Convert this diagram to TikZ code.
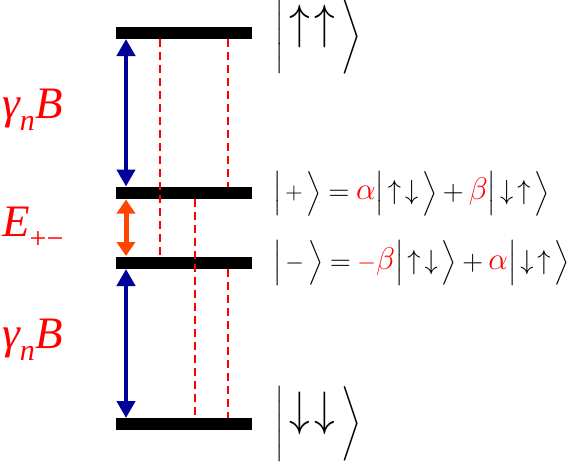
\RequirePackage{fix-cm}
\documentclass[tikz,border=0pt]{standalone}
\usepackage{exscale}
\usepackage{fontspec}
\newfontfamily\tms{Liberation Serif}
\usetikzlibrary{arrows.meta,calc}
\definecolor{navy}{RGB}{0,0,155}
\definecolor{orng}{RGB}{255,69,0}
\newcommand{\bigup}{\raisebox{4pt}{\scalebox{1.8}[2.1]{$\uparrow$}}}
\newcommand{\bigdn}{\raisebox{4pt}{\scalebox{1.8}[2.1]{$\downarrow$}}}
\newcommand{\su}{\scalebox{1.1}[1.15]{$\uparrow$}}
\newcommand{\sd}{\scalebox{1.1}[1.15]{$\downarrow$}}
\newcommand{\sket}[1]{\Bigl|\,#1\,\Bigr\rangle}
\newcommand{\rd}[1]{{\color{red}#1}}
\newcommand{\gk}[1]{\scalebox{1.3}{$#1$}}
\newcommand{\beq}{\mathrel{\raisebox{-1pt}{\scalebox{1.2}{$=$}}}}
\newcommand{\bpl}{\mathbin{\raisebox{-1pt}{\scalebox{1.2}{$+$}}}}
\begin{document}
\begin{tikzpicture}[x=1pt,y=-1pt,
  bar/.style={fill=black,draw=none,minimum width=136pt,minimum height=12pt,inner sep=0pt,outer sep=0pt},
  dsh/.style={red,line width=1.6pt,dash pattern=on 8pt off 5pt},
  bluearr/.style={navy,line width=4.5pt,{Triangle[width=18pt,length=17pt]}-{Triangle[width=18pt,length=17pt]}},
  orarr/.style={orng,line width=5pt,{Triangle[width=18pt,length=14pt]}-{Triangle[width=18pt,length=14pt]}},
  lbl/.style={red,inner sep=0pt,font=\tms\itshape\fontsize{45}{45}\selectfont},
  ket/.style={inner sep=0pt,anchor=west}]
\useasboundingbox (0,0) rectangle (581,461);
% levels
\node[bar] (l1) at (184,33) {};
\node[bar] (l2) at (184,192.5) {};
\node[bar] (l3) at (184,263) {};
\node[bar] (l4) at (184,424) {};
% dashed lines
\draw[dsh] ($(l1.south west)+(44,0)$) -- ($(l3.north west)+(44,0)$);
\draw[dsh] ($(l1.south west)+(112,0)$) -- ($(l2.north west)+(112,0)$);
\draw[dsh] ($(l2.south west)+(79,0)$) -- ($(l4.north west)+(79,0)$);
\draw[dsh] ($(l3.south west)+(112,0)$) -- ($(l4.north west)+(112,0)$);
% arrows
\draw[bluearr] ($(l1.south west)+(10,0)$) -- ($(l2.north west)+(10,0)$);
\draw[bluearr] ($(l3.south west)+(10,0)$) -- ($(l4.north west)+(10,0)$);
\draw[orarr] ($(l2.south west)+(10,1)$) -- ($(l3.north west)+(10,-1)$);
% left labels
\node[lbl,anchor=base west] (g1) at (2,118) {γ\raisebox{-0.27em}{\fontsize{30}{30}\selectfont n}\kern1pt B};
\node[lbl,anchor=base west] (e1) at (2,236) {E\raisebox{-0.28em}{\upshape\fontsize{30}{30}\selectfont +−}};
\node[lbl,anchor=base west] (g2) at (2,348) {γ\raisebox{-0.27em}{\fontsize{30}{30}\selectfont n}\kern1pt B};
% kets
\node[ket] (k1) at (275,36.5) {\fontsize{23}{23}\selectfont$\Biggl|\;\bigup\,\bigup\;\Biggr\rangle$};
\node[ket] (k4) at (275,424) {\fontsize{23}{23}\selectfont$\Biggl|\;\bigdn\,\bigdn\;\Biggr\rangle$};
\node[ket] (k2) at (273,193.5) {\fontsize{24}{24}\selectfont$\sket{{+}} \beq \rd{\gk{\alpha}}\sket{\su\,\sd} \bpl \rd{\gk{\beta}}\sket{\sd\,\su}$};
\node[ket] (k3) at (273,263) {\fontsize{24}{24}\selectfont$\sket{{-}} \beq \rd{{-}\gk{\beta}}\sket{\su\,\sd} \bpl \rd{\gk{\alpha}}\sket{\sd\,\su}$};
\end{tikzpicture}
\end{document}
